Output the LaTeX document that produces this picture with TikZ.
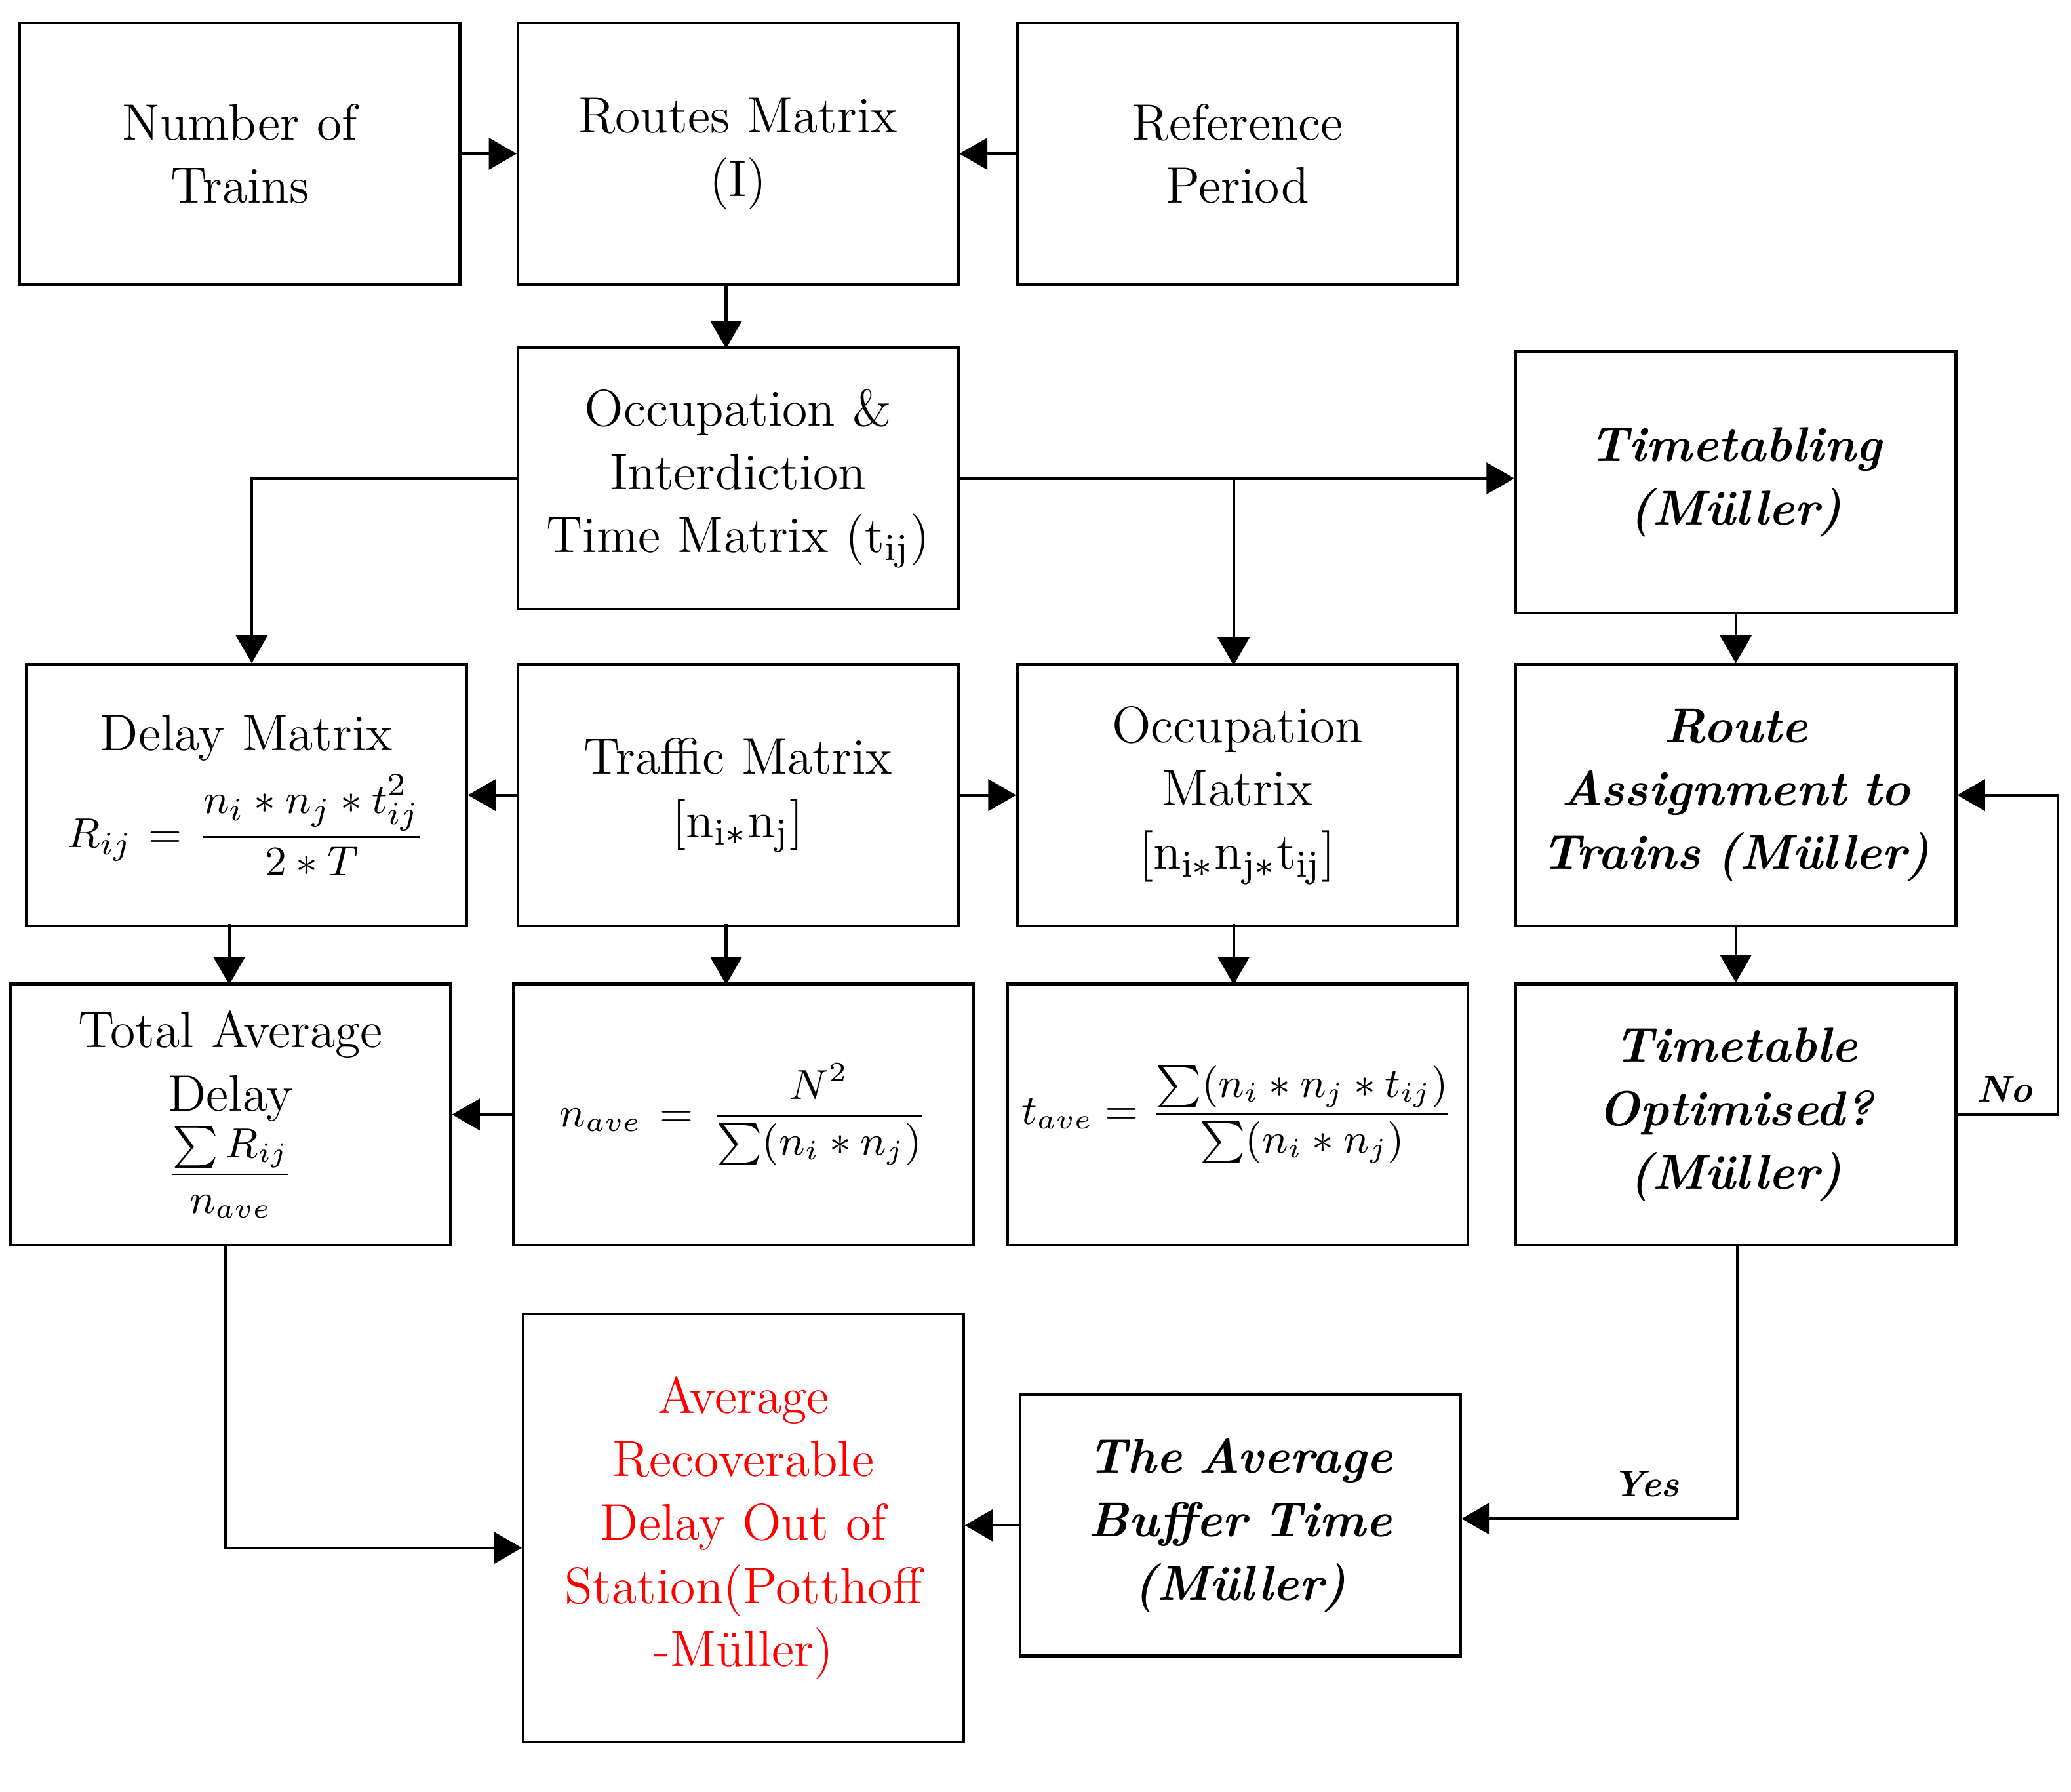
\documentclass[tikz,border=0pt]{standalone}
\usepackage{amsmath}
\usepackage{amssymb}
\usetikzlibrary{arrows}
\tikzset{box/.style={draw,minimum width=3.32cm,minimum height=1.97cm,text width=3.2cm,inner sep=1pt,align=center,font=\fontsize{11}{13.6}\selectfont},
  bi/.style={box,font=\fontsize{10.5}{13.6}\selectfont\bfseries\itshape},
  fbox/.style={box,text width=3.4cm,font=\fontsize{9}{12}\selectfont},
  lbl/.style={font=\footnotesize\bfseries\itshape}}
\begin{document}
\begin{tikzpicture}[x=0.01cm,y=-0.01cm,line width=0.6pt]
\useasboundingbox (0,0) rectangle (1563,1352);
\node[box] (1) at (181,116) {Number of\\Trains};

\node[box] (2) at (557,116) {Routes Matrix\\(I)};

\node[box] (3) at (934,116) {Reference\\Period};

\node[box] (4) at (557,361) {Occupation \&\\Interdiction\\Time Matrix (t$_{\mathrm{ij}}$)};

\node[bi] (5) at (1310,364) {Timetabling\\(M\"uller)};

\node[box] (6) at (186,600) {Delay Matrix\\[2pt]{\fontsize{9.5}{12}\selectfont$R_{ij}=\dfrac{n_i*n_j*t_{ij}^2}{2*T}$}};

\node[box] (7) at (557,600) {Traffic Matrix\\{[n$_{\mathrm{i}*}$n$_{\mathrm{j}}$]}};

\node[box] (8) at (934,600) {Occupation\\Matrix\\{[n$_{\mathrm{i}*}$n$_{\mathrm{j}*}$t$_{\mathrm{ij}}$]}};

\node[bi] (9) at (1310,600) {Route\\Assignment to\\Trains (M\"uller)};

\node[box] (10) at (174,841) {Total Average\\Delay\\[0pt]{\small$\dfrac{\sum R_{ij}}{n_{ave}}$}};

\node[fbox] (11) at (561,841) {$n_{ave}=\dfrac{N^2}{\sum(n_i*n_j)}$};

\node[fbox] (12) at (934,841) {\mbox{$t_{ave}=\dfrac{\sum(n_i*n_j*t_{ij})}{\sum(n_i*n_j)}$}};

\node[bi] (13) at (1310,841) {Timetable\\Optimised?\\(M\"uller)};

\node[box,minimum height=3.23cm,text=red] (14) at (561,1153) {Average\\Recoverable\\Delay Out of\\Station(Potthoff\\-M\"uller)};

\node[bi] (15) at (936,1151) {The Average\\Buffer Time\\(M\"uller)};

\draw[-triangle 60] (1) -- (2);

\draw[-triangle 60] (3) -- (2);

\draw[-triangle 60] (548,215) -- (548,263);

\draw[-triangle 60] (4.west) -| (6.north-|190,0);

\draw[-triangle 60] (4.east) -- (5.west|-4.east);

\draw[-triangle 60] (931,362) -- (931,502);

\draw[-triangle 60] (5) -- (9);

\draw[-triangle 60] (7) -- (6);

\draw[-triangle 60] (7) -- (8);

\draw[-triangle 60] (173,697) -- (173,743);

\draw[-triangle 60] (548,697) -- (548,743);

\draw[-triangle 60] (931,697) -- (931,743);

\draw[-triangle 60] (9) -- (13);

\draw[-triangle 60] (11) -- (10);

\draw[-triangle 60] (13.east) -- (1553,841) -- (1553,600) -- (9.east);
\node[lbl] at (1513,822) {No};

\draw[-triangle 60] (1311,940) -- (1311,1146) -- (15.east|-0,1146);
\node[lbl] at (1242,1120) {Yes};

\draw[-triangle 60] (15) -- (14.east|-15);

\draw[-triangle 60] (170,940) -- (170,1168) -- (14.west|-0,1168);
\end{tikzpicture}
\end{document}
